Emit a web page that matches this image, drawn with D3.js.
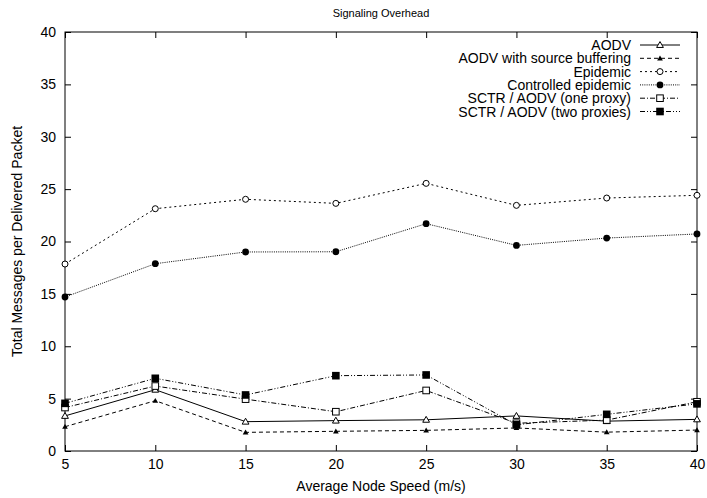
<!DOCTYPE html>
<html><head><meta charset="utf-8">
<script src="https://cdn.jsdelivr.net/npm/d3@7"></script>
<style>body{margin:0;background:#fff}svg{font-family:"Liberation Sans",Arial,sans-serif}</style>
</head><body><svg id="c" width="707" height="498"></svg>
<script>
const speeds = [5, 10, 15, 20, 25, 30, 35, 40];
const aodv = [3.35, 5.85, 2.8, 2.9, 2.98, 3.35, 2.85, 3.02];
const aodvBuffering = [2.32, 4.8, 1.78, 1.88, 1.97, 2.2, 1.8, 2.0];
const epidemic = [17.85, 23.13, 24.03, 23.64, 25.55, 23.45, 24.15, 24.41];
const controlledEpidemic = [14.7, 17.88, 19.0, 19.02, 21.7, 19.63, 20.33, 20.72];
const sctrOne = [4.15, 6.2, 4.95, 3.75, 5.78, 2.65, 2.95, 4.7];
const sctrTwo = [4.55, 6.94, 5.35, 7.19, 7.26, 2.5, 3.5, 4.5];
const yTicks = [0, 5, 10, 15, 20, 25, 30, 35, 40];
const xTicks = [5, 10, 15, 20, 25, 30, 35, 40];

const series = [
  {name: "AODV", values: aodv, dash: null, marker: "triOpen"},
  {name: "AODV with source buffering", values: aodvBuffering, dash: "4,3", marker: "triFilled"},
  {name: "Epidemic", values: epidemic, dash: "2,3", marker: "circOpen"},
  {name: "Controlled epidemic", values: controlledEpidemic, dash: "1,1.2", marker: "circFilled"},
  {name: "SCTR / AODV (one proxy)", values: sctrOne, dash: "5,2,1,2", marker: "sqOpen"},
  {name: "SCTR / AODV (two proxies)", values: sctrTwo, dash: "5,2,1,2,1,2", marker: "sqFilled"}
];

const L = 65, R = 697, T = 32, B = 451;
const x = d3.scaleLinear().domain([5, 40]).range([L, R]);
const y = d3.scaleLinear().domain([0, 40]).range([B, T]);
const svg = d3.select("#c");

function drawMarker(g, type, cx, cy) {
  if (type === "triOpen") {
    g.append("path").attr("d", d3.symbol(d3.symbolTriangle, 20)()).attr("transform", `translate(${cx},${cy + 0.5})`)
      .attr("fill", "#fff").attr("stroke", "#000").attr("stroke-width", 1);
  } else if (type === "triFilled") {
    g.append("path").attr("d", d3.symbol(d3.symbolTriangle, 14)()).attr("transform", `translate(${cx},${cy + 0.5})`)
      .attr("fill", "#000");
  } else if (type === "circOpen") {
    g.append("circle").attr("cx", cx).attr("cy", cy).attr("r", 3).attr("fill", "#fff").attr("stroke", "#000").attr("stroke-width", 1);
  } else if (type === "circFilled") {
    g.append("circle").attr("cx", cx).attr("cy", cy).attr("r", 3.4).attr("fill", "#000");
  } else if (type === "sqOpen") {
    g.append("rect").attr("x", cx - 3.3).attr("y", cy - 3.3).attr("width", 6.6).attr("height", 6.6).attr("fill", "#fff").attr("stroke", "#000").attr("stroke-width", 1);
  } else if (type === "sqFilled") {
    g.append("rect").attr("x", cx - 3.8).attr("y", cy - 3.8).attr("width", 7.6).attr("height", 7.6).attr("fill", "#000");
  }
}

// title
svg.append("text").attr("x", 381).attr("y", 17).attr("text-anchor", "middle").attr("font-size", 11).text("Signaling Overhead");

// axes ticks (inward, mirrored)
const axG = svg.append("g");
const yAx = d3.axisLeft(y).tickValues(yTicks).tickSize(-6).tickPadding(9).tickFormat(d3.format("d"));
const yg = axG.append("g").attr("transform", `translate(${L},0)`).call(yAx);
const yAxR = d3.axisRight(y).tickValues(yTicks).tickSize(-6).tickFormat("");
const ygr = axG.append("g").attr("transform", `translate(${R},0)`).call(yAxR);
const xAx = d3.axisBottom(x).tickValues(xTicks).tickSize(-6).tickPadding(8).tickFormat(d3.format("d"));
const xg = axG.append("g").attr("transform", `translate(0,${B})`).call(xAx);
const xAxT = d3.axisTop(x).tickValues(xTicks).tickSize(-6).tickFormat("");
const xgt = axG.append("g").attr("transform", `translate(0,${T})`).call(xAxT);
[yg, ygr, xg, xgt].forEach(g => {
  g.select(".domain").remove();
  g.selectAll(".tick line").attr("stroke", "#000").attr("stroke-width", 1);
  g.selectAll("text").attr("font-size", 14).attr("font-family", "Liberation Sans, Arial, sans-serif").attr("fill", "#000");
});
svg.append("rect").attr("x", L).attr("y", T).attr("width", R - L).attr("height", B - T)
  .attr("fill", "none").attr("stroke", "#000").attr("stroke-width", 1);

// axis labels
svg.append("text").attr("x", 381).attr("y", 491).attr("text-anchor", "middle").attr("font-size", 14).text("Average Node Speed (m/s)");
svg.append("text").attr("transform", `translate(22,${(T + B) / 2}) rotate(-90)`).attr("text-anchor", "middle").attr("font-size", 14).text("Total Messages per Delivered Packet");

// lines
const line = d3.line().x((d, i) => x(speeds[i])).y(d => y(d));
const plotG = svg.append("g");
series.forEach(s => {
  plotG.append("path").datum(s.values).attr("d", line).attr("fill", "none").attr("stroke", "#000")
    .attr("stroke-width", 1).attr("stroke-dasharray", s.dash);
});
series.forEach(s => {
  s.values.forEach((v, i) => drawMarker(plotG, s.marker, x(speeds[i]), y(v)));
});

// legend
const lg = svg.append("g");
series.forEach((s, i) => {
  const ly = 45 + i * 13.3;
  lg.append("text").attr("x", 631).attr("y", ly + 5).attr("text-anchor", "end").attr("font-size", 14).text(s.name);
  lg.append("line").attr("x1", 640).attr("x2", 680).attr("y1", ly).attr("y2", ly).attr("stroke", "#000").attr("stroke-width", 1).attr("stroke-dasharray", s.dash);
  drawMarker(lg, s.marker, 660, ly);
});
</script></body></html>
